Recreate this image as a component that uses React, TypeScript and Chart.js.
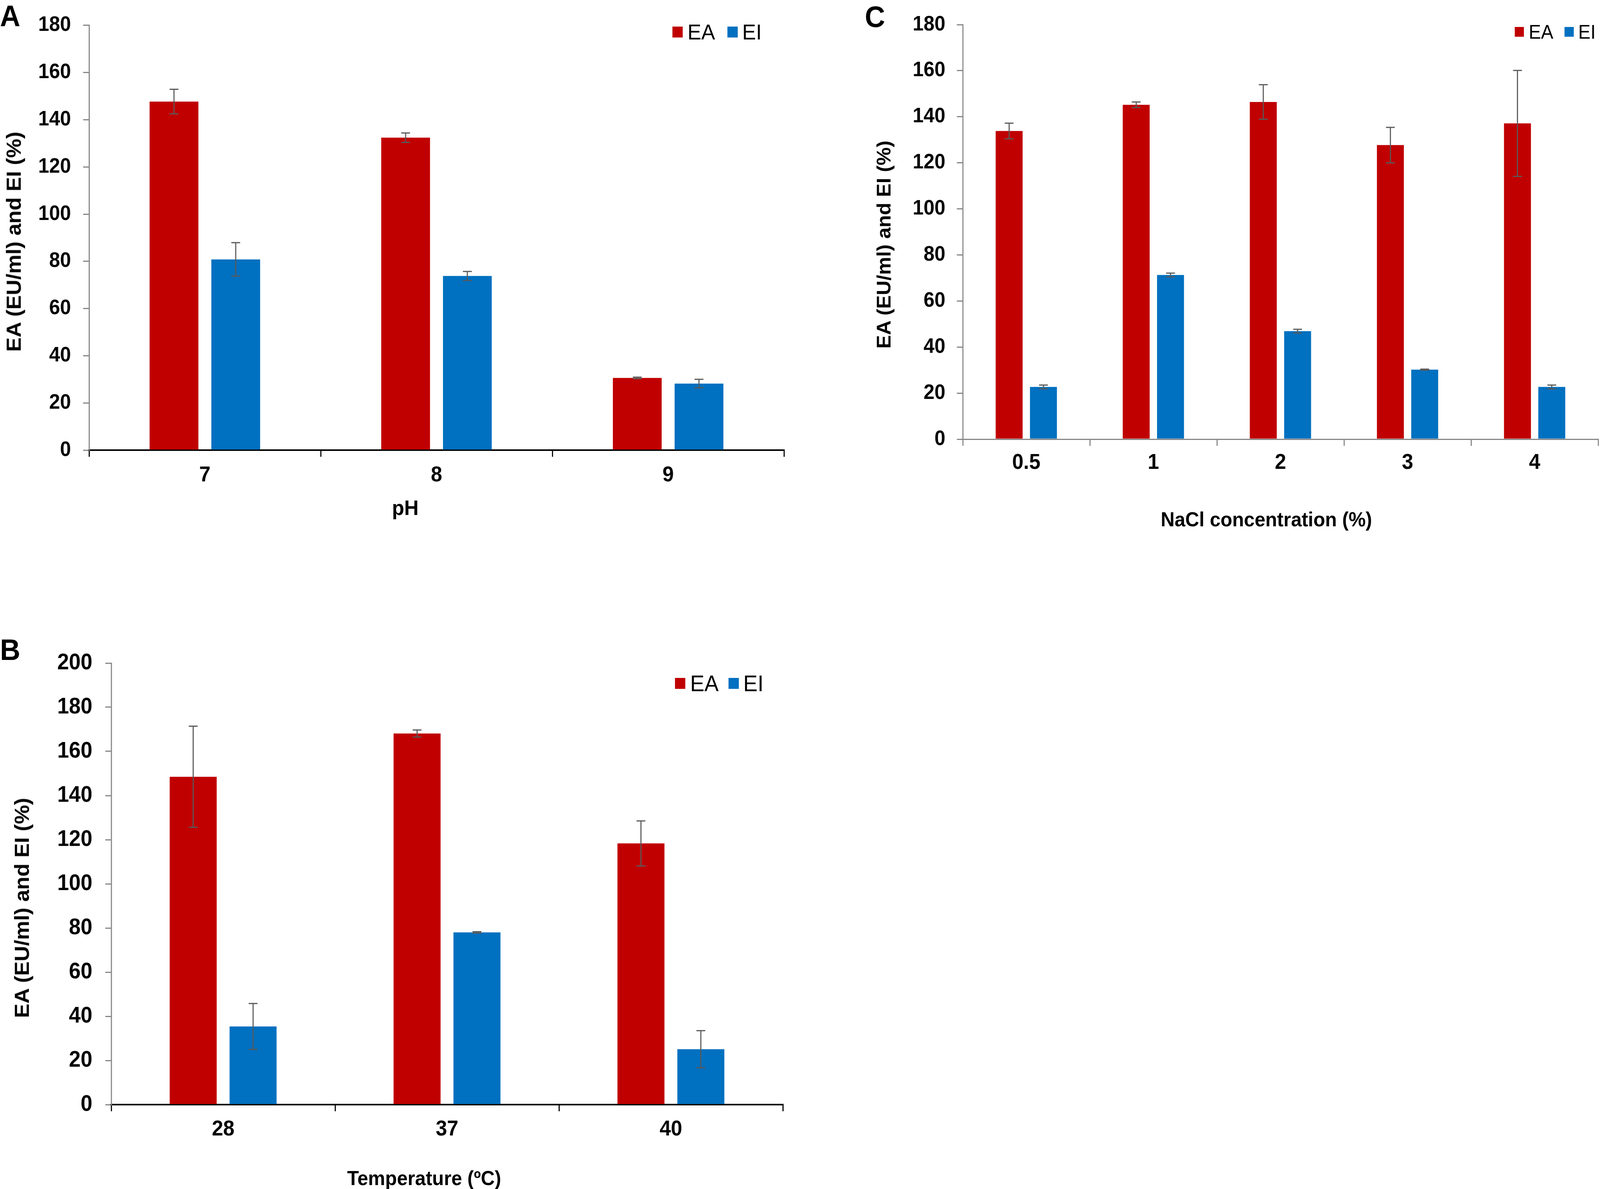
import { useEffect, useRef } from "react";
import { Chart, registerables } from "chart.js";

Chart.register(...registerables);

// panel A: pH
const phLabels = ["7", "8", "9"];
const phEA = [147.7, 132.4, 30.6];
const phEAErr = [5.2, 2.0, 0.3];
const phEI = [80.8, 73.8, 28.2];
const phEIErr = [7.1, 1.9, 1.8];

// panel B: temperature
const tempLabels = ["28", "37", "40"];
const tempEA = [148.5, 168.1, 118.3];
const tempEAErr = [22.9, 1.6, 10.2];
const tempEI = [35.4, 78.0, 25.1];
const tempEIErr = [10.4, 0.3, 8.4];

// panel C: NaCl
const naclLabels = ["0.5", "1", "2", "3", "4"];
const naclEA = [133.8, 145.2, 146.4, 127.7, 137.1];
const naclEAErr = [3.4, 1.2, 7.5, 7.7, 23.0];
const naclEI = [22.7, 71.3, 46.9, 30.2, 22.7];
const naclEIErr = [0.8, 0.8, 0.8, 0.2, 0.8];

const seriesNames = ["EA", "EI"];

const RED = "#C00000";
const BLUE = "#0070C0";
const GREY = "#878787";
const ERR = "#595959";
const FONT = "'Liberation Sans', Arial, Helvetica, sans-serif";

// whole figure is laid out in reference pixels, then fitted to the window
const FIG_W = 4331;
const FIG_H = 3043;

const errorBars = {
  id: "errorBars",
  afterDatasetsDraw(chart: any) {
    const { ctx } = chart;
    const y = chart.scales.y;
    ctx.save();
    ctx.strokeStyle = ERR;
    ctx.lineWidth = 3;
    chart.data.datasets.forEach((ds: any, i: number) => {
      const meta = chart.getDatasetMeta(i);
      meta.data.forEach((bar: any, j: number) => {
        const v = ds.data[j];
        const e = ds.errors[j];
        const top = y.getPixelForValue(v + e);
        const bottom = y.getPixelForValue(v - e);
        ctx.beginPath();
        ctx.moveTo(bar.x, top);
        ctx.lineTo(bar.x, bottom);
        ctx.moveTo(bar.x - 12, top);
        ctx.lineTo(bar.x + 12, top);
        ctx.moveTo(bar.x - 12, bottom);
        ctx.lineTo(bar.x + 12, bottom);
        ctx.stroke();
      });
    });
    ctx.restore();
  },
};

interface PanelProps {
  labels: string[];
  ea: number[];
  eaErr: number[];
  ei: number[];
  eiErr: number[];
  yMax: number;
  left: number;
  top: number;
  width: number;
  height: number;
  padTop: number;
  padRight: number;
  axisWidth: number;
  yTickSize: number;
  yTickPad: number;
  xTickPad: number;
  catPct: number;
  barPct: number;
  xColor: string;
  xWidth: number;
}

function BarPanel(p: PanelProps) {
  const canvasRef = useRef<HTMLCanvasElement | null>(null);
  const chartRef = useRef<Chart | null>(null);

  useEffect(() => {
    if (!canvasRef.current) return;
    const ctx = canvasRef.current.getContext("2d");
    if (!ctx) return;
    chartRef.current = new Chart(ctx, {
      type: "bar",
      data: {
        labels: p.labels,
        datasets: [
          {
            label: seriesNames[0],
            data: p.ea,
            errors: p.eaErr,
            backgroundColor: RED,
            borderWidth: 0,
            categoryPercentage: p.catPct,
            barPercentage: p.barPct,
          } as any,
          {
            label: seriesNames[1],
            data: p.ei,
            errors: p.eiErr,
            backgroundColor: BLUE,
            borderWidth: 0,
            categoryPercentage: p.catPct,
            barPercentage: p.barPct,
          } as any,
        ],
      },
      options: {
        animation: false,
        responsive: true,
        maintainAspectRatio: false,
        layout: { padding: { top: p.padTop, right: p.padRight, left: 0, bottom: 0 } },
        plugins: { legend: { display: false }, tooltip: { enabled: false } },
        scales: {
          x: {
            grid: {
              display: true,
              drawOnChartArea: false,
              drawTicks: true,
              tickLength: 17,
              color: p.xColor,
              lineWidth: 3,
              offset: true,
            },
            border: { display: true, color: p.xColor, width: p.xWidth },
            ticks: {
              color: "#000",
              font: { family: FONT, size: 55, weight: "bold" },
              padding: p.xTickPad,
              maxRotation: 0,
              autoSkip: false,
            },
            afterFit: (s: any) => {
              s.height = 120;
            },
          },
          y: {
            min: 0,
            max: p.yMax,
            grid: {
              drawOnChartArea: false,
              drawTicks: true,
              tickLength: 16,
              color: GREY,
              lineWidth: 3,
            },
            border: { display: true, color: GREY, width: 3 },
            ticks: {
              stepSize: 20,
              color: "#000",
              font: { family: FONT, size: p.yTickSize, weight: "bold" },
              padding: p.yTickPad,
            },
            afterFit: (s: any) => {
              s.width = p.axisWidth;
            },
          },
        },
      } as any,
      plugins: [errorBars],
    });
    return () => {
      if (chartRef.current) {
        chartRef.current.destroy();
        chartRef.current = null;
      }
    };
  }, []);

  return (
    <div style={{ position: "absolute", left: p.left, top: p.top, width: p.width, height: p.height }}>
      <canvas ref={canvasRef} />
    </div>
  );
}

function Text({ x, y, size, bold, children, center }: any) {
  return (
    <div
      style={{
        position: "absolute",
        left: center ? x - 600 : x,
        width: center ? 1200 : undefined,
        textAlign: center ? "center" : "left",
        top: y,
        fontSize: size,
        lineHeight: 1,
        fontWeight: bold ? "bold" : "normal",
        whiteSpace: "nowrap",
        color: "#000",
      }}
    >
      {children}
    </div>
  );
}

function YTitle({ cx, cy, size }: { cx: number; cy: number; size: number }) {
  return (
    <div
      style={{
        position: "absolute",
        left: cx - 500,
        top: cy - size / 2,
        width: 1000,
        height: size,
        lineHeight: `${size}px`,
        fontSize: size,
        fontWeight: "bold",
        textAlign: "center",
        whiteSpace: "nowrap",
        transform: "rotate(-90deg)",
        color: "#000",
      }}
    >
      EA (EU/ml) and EI (%)
    </div>
  );
}

function Legend({ x, y, box, size, gap }: { x: number; y: number; box: number; size: number; gap: number }) {
  return (
    <>
      <div style={{ position: "absolute", left: x, top: y, width: box, height: box, background: RED }} />
      <Text x={x + box + 13} y={y + box / 2 - size * 0.5} size={size}>
        {seriesNames[0]}
      </Text>
      <div style={{ position: "absolute", left: x + gap, top: y, width: box, height: box, background: BLUE }} />
      <Text x={x + gap + box + 12} y={y + box / 2 - size * 0.5} size={size}>
        {seriesNames[1]}
      </Text>
    </>
  );
}

export default function App() {
  const sx = window.innerWidth / FIG_W;
  const sy = window.innerHeight / FIG_H;
  return (
    <div style={{ position: "fixed", left: 0, top: 0, right: 0, bottom: 0, overflow: "hidden", background: "#fff" }}>
      <div
        style={{
          position: "absolute",
          left: 0,
          top: 0,
          width: FIG_W,
          height: FIG_H,
          background: "#fff",
          overflow: "hidden",
          fontFamily: FONT,
          transform: `scale(${sx}, ${sy})`,
          transformOrigin: "0 0",
        }}
      >
        <BarPanel
          labels={phLabels}
          ea={phEA}
          eaErr={phEAErr}
          ei={phEI}
          eiErr={phEIErr}
          yMax={180}
          left={0}
          top={0}
          width={2130}
          height={1272}
          padTop={63}
          padRight={8}
          axisWidth={241}
          yTickSize={53}
          yTickPad={33}
          xTickPad={15}
          catPct={0.533}
          barPct={0.79}
          xColor="#000"
          xWidth={4}
        />
        <BarPanel
          labels={tempLabels}
          ea={tempEA}
          eaErr={tempEAErr}
          ei={tempEI}
          eiErr={tempEIErr}
          yMax={200}
          left={0}
          top={1620}
          width={2128}
          height={1327}
          padTop={77}
          padRight={9}
          axisWidth={301}
          yTickSize={57}
          yTickPad={35}
          xTickPad={14}
          catPct={0.535}
          barPct={0.785}
          xColor="#000"
          xWidth={4}
        />
        <BarPanel
          labels={naclLabels}
          ea={naclEA}
          eaErr={naclEAErr}
          ei={naclEI}
          eiErr={naclEIErr}
          yMax={180}
          left={2340}
          top={0}
          width={1991}
          height={1244}
          padTop={63}
          padRight={5}
          axisWidth={266}
          yTickSize={53}
          yTickPad={31}
          xTickPad={11}
          catPct={0.54}
          barPct={0.785}
          xColor={GREY}
          xWidth={3}
        />

        <Text x={0} y={3} size={76} bold>A</Text>
        <Text x={0} y={1625} size={76} bold>B</Text>
        <Text x={2341} y={5} size={76} bold>C</Text>

        <YTitle cx={38} cy={618} size={55} />
        <YTitle cx={60} cy={2323} size={55} />
        <YTitle cx={2393} cy={626} size={52} />

        <Text x={1097} y={1272} size={54} bold center>pH</Text>
        <Text x={1148} y={2989} size={52} bold center>Temperature (ºC)</Text>
        <Text x={3428} y={1303} size={52} bold center>NaCl concentration (%)</Text>

        <Legend x={1820} y={68} box={28} size={56} gap={149} />
        <Legend x={1827} y={1735} box={28} size={58} gap={145} />
        <Legend x={4100} y={69} box={25} size={50} gap={135} />
      </div>
    </div>
  );
}
